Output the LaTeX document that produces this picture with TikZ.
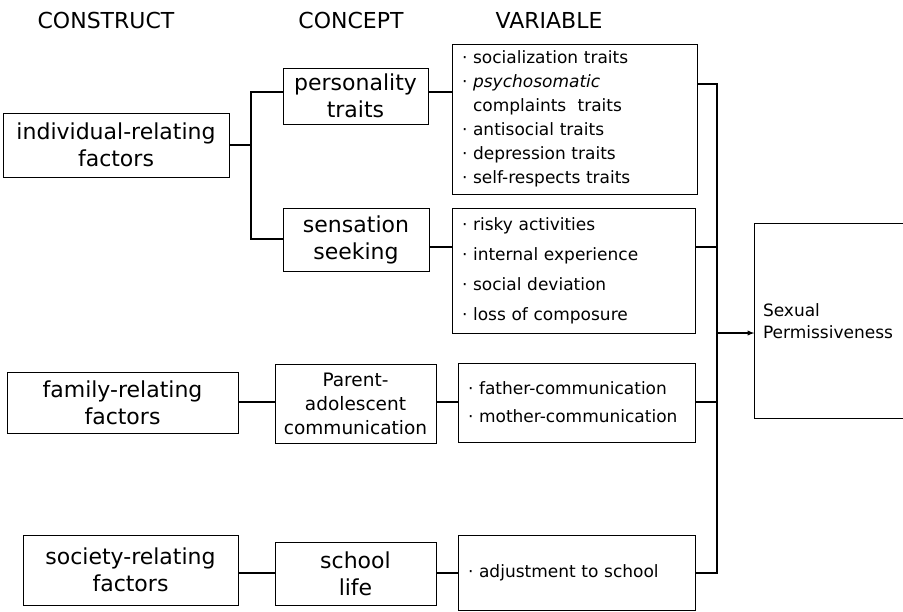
\documentclass[tikz,border=0pt]{standalone}
\usepackage{fontspec}
\setmainfont{DejaVu Sans}
\tikzstyle{big box}=[
        draw,
        line width = 1pt,
        align = center,
        inner sep = 2pt,
        font = \fontsize{22}{27}\selectfont
    ]
\tikzstyle{var box}=[
        draw,
        line width = 1pt,
        align = left,
        inner xsep = 10pt,
        inner ysep = 2pt,
        font = \fontsize{17}{24}\selectfont
    ]
\tikzstyle{head}=[font = \fontsize{22}{26}\selectfont]

\begin{document}
\begin{tikzpicture}[x=1pt, y=-1pt, line width=1.3pt]
        \useasboundingbox (0,0) rectangle (903,611);

        % column titles
        \node[head] (hcons) at (106,20) {CONSTRUCT};
        \node[head] (hconc) at (351,20) {CONCEPT};
        \node[head] (hvar) at (549,20) {VARIABLE};

        % construct
        \node[big box] (ind) [minimum width=226pt, minimum height=64pt] at (116,145) {individual-relating\\factors};
        \node[big box] (fam) [minimum width=231pt, minimum height=61pt] at (122.5,402.5) {family-relating\\factors};
        \node[big box] (soc) [minimum width=215pt, minimum height=70pt] at (130.5,570) {society-relating\\factors};

        % concept
        \node[big box] (pers) [minimum width=145pt, minimum height=56pt] at (355.5,96) {personality\\traits};
        \node[big box] (sens) [minimum width=146pt, minimum height=63pt] at (356,239.5) {sensation\\seeking};
        \node[big box] (par) [minimum width=161pt, minimum height=79pt, inner xsep=1pt, font=\fontsize{18.5}{24}\selectfont] at (355.5,403.5) {Parent-\\adolescent\\communication};
        \node[big box] (sch) [minimum width=161pt, minimum height=63pt] at (355.5,573.5) {school\\life};

        % variable
        \node[var box] (var1) [text width=225pt, minimum height=150pt] at (574.5,119) {%
            · socialization traits\\
            · \textit{psychosomatic}\\
            \phantom{· }complaints~ traits\\
            · antisocial traits\\
            · depression traits\\
            · self-respects traits};
        \node[var box] (var2) [text width=223pt, minimum height=125pt, font=\fontsize{17}{30}\selectfont] at (573.5,270.5) {%
            · risky activities\\
            · internal experience\\
            · social deviation\\
            · loss of composure};
        \node[var box] (var3) [text width=217pt, minimum height=79pt, font=\fontsize{17}{28}\selectfont] at (576.5,402.5) {%
            · father-communication\\
            · mother-communication};
        \node[var box] (var4) [text width=217pt, minimum height=75pt] at (576.5,572.5) {· adjustment to school};

        % outcome (open to the right)
        \node (sp) [minimum width=148pt, minimum height=194pt, text width=132pt, inner xsep=8pt, align=left, font=\fontsize{17}{22}\selectfont] at (829,321) {Sexual\\Permissiveness};
        \draw[line width=1pt] (sp.north east) -- (sp.north west) -- (sp.south west) -- (sp.south east);

        % left bus
        \coordinate (k1) at (251,92);
        \coordinate (k2) at (251,239);
        \draw (ind.east) -- (ind.east -| k1);
        \draw (pers.west |- k1) -- (k1) -- (k2) -- (sens.west |- k2);

        % bus points on the right
        \coordinate (j1) at (717,84);
        \coordinate (j2) at (717,247);
        \coordinate (j3) at (717,402);
        \coordinate (j4) at (717,573);
        \coordinate (jsp) at (717,333);

        % construct to concept to variable
        \draw (fam.east |- j3) -- (par.west |- j3);
        \draw (soc.east |- j4) -- (sch.west |- j4);
        \draw (pers.east |- k1) -- (var1.west |- k1);
        \draw (sens.east |- j2) -- (var2.west |- j2);
        \draw (par.east |- j3) -- (var3.west |- j3);
        \draw (sch.east |- j4) -- (var4.west |- j4);

        % right bus
        \draw (var1.east |- j1) -- (j1) -- (j4) -- (var4.east |- j4);
        \draw (var2.east |- j2) -- (j2);
        \draw (var3.east |- j3) -- (j3);
        \draw[-latex] (jsp) -- (sp.west |- jsp);
    \end{tikzpicture}
\end{document}
